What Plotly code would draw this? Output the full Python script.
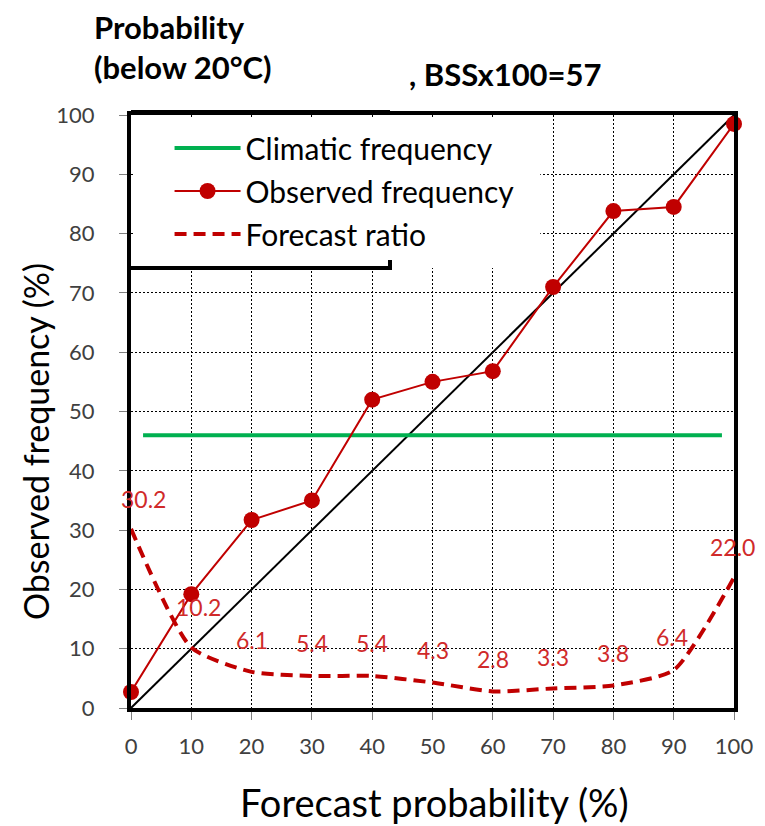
import plotly.graph_objects as go

# --- data ---
prob = [0, 10, 20, 30, 40, 50, 60, 70, 80, 90, 100]
observed = [2.7, 19.2, 31.7, 35.0, 52.0, 55.0, 56.8, 71.0, 83.8, 84.5, 98.5]
ratio = [30.2, 10.2, 6.1, 5.4, 5.4, 4.3, 2.8, 3.3, 3.8, 6.4, 22.0]
ratio_labels = ["30.2", "10.2", "6.1", "5.4", "5.4", "4.3", "2.8", "3.3", "3.8", "6.4", "22.0"]
climatic_x = [2, 98]
climatic_y = [46, 46]
perfect_x = [0, 100]
perfect_y = [0, 100]
ticks = [0, 10, 20, 30, 40, 50, 60, 70, 80, 90, 100]

RED = "#C00000"
LABEL_RED = "#D02A2A"
GREEN = "#00B050"
FONT = "Lato, 'Open Sans', sans-serif"

W, H = 765, 826
# plot area in page pixels
L, R, T, B = 131, 741, 115, 708


def px(x):
    return (x - L) / (R - L)


def py(y):
    return (B - y) / (B - T)


fig = go.Figure()

fig.add_trace(go.Scatter(
    x=perfect_x, y=perfect_y, mode="lines",
    line=dict(color="black", width=2), showlegend=False, hoverinfo="skip",
))
fig.add_trace(go.Scatter(
    x=climatic_x, y=climatic_y, mode="lines", name="Climatic frequency",
    line=dict(color=GREEN, width=4), legendgroup="a",
))
fig.add_trace(go.Scatter(
    x=prob, y=observed, mode="lines+markers", name="Observed frequency",
    line=dict(color=RED, width=2), marker=dict(color=RED, size=16),
    cliponaxis=False, legendgroup="b",
))
fig.add_trace(go.Scatter(
    x=prob, y=ratio, mode="lines", name="Forecast ratio",
    line=dict(color=RED, width=4, dash="12px,7px", shape="spline", smoothing=0.6),
    cliponaxis=False, legendgroup="c",
))

# ratio value labels (pixel nudges to match the reference placement)
label_dx = [12, 7, 0, 0, 0, 0, 0, 0, 0, -2, -2]
label_dy = [30, 41, 32, 33, 33, 33, 32, 31, 32, 33, 31]
for xv, yv, txt, dx, dy in zip(prob, ratio, ratio_labels, label_dx, label_dy):
    fig.add_annotation(
        x=xv, y=yv, xref="x", yref="y", text=txt, showarrow=False,
        xshift=dx, yshift=dy, font=dict(family=FONT, size=23, color=LABEL_RED),
    )

# titles
title_font = dict(family=FONT, size=31, color="black")
fig.add_annotation(x=px(92), y=py(27), xref="paper", yref="paper", text="<b>Probability</b>",
                   showarrow=False, xanchor="left", yanchor="middle", font=title_font)
fig.add_annotation(x=px(92), y=py(67), xref="paper", yref="paper", text="<b>(below 20°C)</b>",
                   showarrow=False, xanchor="left", yanchor="middle", font=title_font)
fig.add_annotation(x=px(410), y=py(74), xref="paper", yref="paper", text="<b>, BSSx100=57</b>",
                   showarrow=False, xanchor="left", yanchor="middle", font=title_font)
fig.add_annotation(x=px(438), y=py(802), xref="paper", yref="paper", text="Forecast probability (%)",
                   showarrow=False, xanchor="center", yanchor="middle",
                   font=dict(family=FONT, size=38, color="black"))
fig.add_annotation(x=px(34), y=py(442), xref="paper", yref="paper", text="Observed frequency (%)",
                   showarrow=False, xanchor="center", yanchor="middle", textangle=-90,
                   font=dict(family=FONT, size=34, color="black"))

# legend background and the partial border seen in the reference
fig.add_shape(type="rect", xref="paper", yref="paper",
              x0=px(134), x1=px(545), y0=py(268), y1=py(118),
              fillcolor="white", line=dict(width=0), layer="above")
fig.add_shape(type="path", xref="paper", yref="paper",
              path=f"M{px(131)},{py(112)} L{px(393)},{py(112)} M{px(131)},{py(268)} "
                   f"L{px(393)},{py(268)} L{px(393)},{py(260)}",
              line=dict(color="black", width=4), layer="above")

axis_common = dict(
    range=[0, 100], tickvals=ticks, showgrid=True, gridcolor="black", gridwidth=1,
    griddash="2px,2px", zeroline=False, showline=True, linecolor="black", linewidth=4,
    mirror=True, ticks="outside", ticklen=8, tickcolor="#808080", tickwidth=1,
    tickfont=dict(family=FONT, size=22, color="#404040"), ticklabeloverflow="allow",
)

fig.update_layout(
    width=W, height=H,
    margin=dict(l=L, r=W - R, t=T, b=H - B, pad=0),
    plot_bgcolor="white", paper_bgcolor="white",
    xaxis=dict(**axis_common, ticklabelstandoff=8),
    yaxis=dict(**axis_common, ticklabelstandoff=20),
    showlegend=True,
    legend=dict(
        x=px(170), y=py(122), xanchor="left", yanchor="top", bgcolor="rgba(0,0,0,0)",
        borderwidth=0, font=dict(family=FONT, size=30, color="black"),
        tracegroupgap=1, itemwidth=66,
    ),
)

# the default page body has an 8px margin and may scroll; pin the figure to the window
page_fix = (
    "document.body.style.margin = '0';"
    "document.body.style.overflow = 'hidden';"
    "document.documentElement.style.overflow = 'hidden';"
)
fig.write_html("out.html", post_script=page_fix, config={"displayModeBar": False})
